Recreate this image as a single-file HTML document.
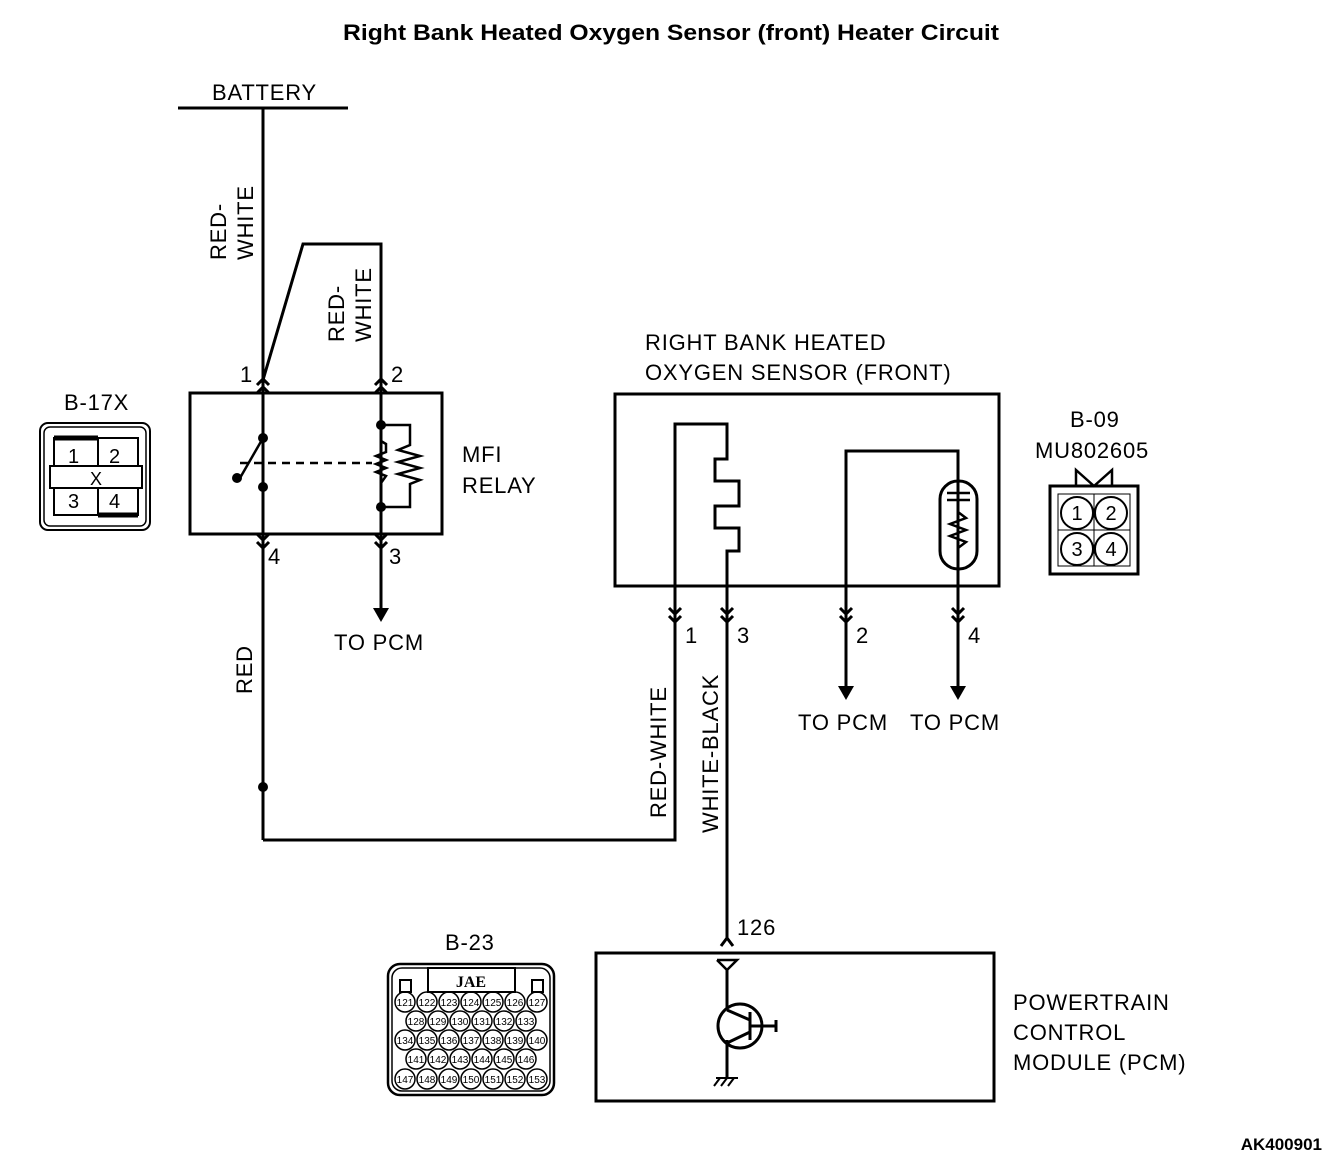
<!DOCTYPE html>
<html><head><meta charset="utf-8"><style>body{margin:0;background:#fff}svg{display:block}</style></head><body>
<svg width="1344" height="1168" viewBox="0 0 1344 1168" xmlns="http://www.w3.org/2000/svg" font-family="Liberation Sans, sans-serif">
<defs>
<g id="cu"><polyline points="-6,6 0,0 6,6" fill="none" stroke="#000" stroke-width="3"/><polyline points="-6,14 0,8 6,14" fill="none" stroke="#000" stroke-width="3"/></g>
<g id="cd"><polyline points="-6,-6 0,0 6,-6" fill="none" stroke="#000" stroke-width="3"/><polyline points="-6,-14 0,-8 6,-14" fill="none" stroke="#000" stroke-width="3"/></g>
</defs>
<text x="343" y="40" font-size="22" font-weight="bold" textLength="656" lengthAdjust="spacingAndGlyphs">Right Bank Heated Oxygen Sensor (front) Heater Circuit</text>
<text x="1322" y="1150" font-size="17" font-weight="bold" text-anchor="end">AK400901</text>
<g stroke="#000" stroke-width="3" fill="none">
<line x1="178" y1="108" x2="348" y2="108"/>
<line x1="263" y1="108" x2="263" y2="840"/>
<polyline points="263,380 303,244 381,244 381,612"/>
<rect x="190" y="393" width="252" height="141"/>
<polyline points="263,840 675,840 675,424 727,424 727,459 715,459 715,481 739,481 739,506 715,506 715,528 739,528 739,551 727,551 727,940"/>
<rect x="615" y="394" width="384" height="192"/>
<polyline points="846,690 846,451 958,451 958,690"/>
<rect x="940" y="481" width="37" height="88" rx="18"/>
<rect x="596" y="953" width="398" height="148"/>
<line x1="727" y1="970" x2="727" y2="1010"/>
<line x1="727" y1="1040" x2="727" y2="1078"/>
<circle cx="740" cy="1026" r="22"/>
<line x1="750" y1="1012" x2="750" y2="1040"/>
<line x1="750" y1="1026" x2="776" y2="1026"/>
<line x1="776" y1="1020" x2="776" y2="1032"/>
<line x1="727" y1="1010" x2="750" y2="1020"/>
<line x1="727" y1="1043" x2="750" y2="1032"/>
</g>
<g stroke="#000" stroke-width="2.5" fill="none">
<line x1="263" y1="438" x2="240" y2="478"/>
<line x1="240" y1="463" x2="372" y2="463" stroke-dasharray="8,6"/>
<polyline points="381,425 410,425 410,445 398,450 420,456 398,462 420,468 398,474 420,480 410,484 410,507 381,507"/>
<polyline points="381,441 386,444 386,452 376,456 386,460 376,464 386,468 376,472 386,476 381,483"/>
<line x1="947" y1="493" x2="970" y2="493"/><line x1="947" y1="500" x2="970" y2="500"/>
<polyline points="958,500 958,512 966,518 950,524 966,530 950,536 966,542 958,548"/>
<polyline points="717,960 737,960 727,970 717,960"/>
<g stroke-width="2"><line x1="716" y1="1078" x2="738" y2="1078"/><line x1="720" y1="1078" x2="714" y2="1086"/><line x1="727" y1="1078" x2="721" y2="1086"/><line x1="734" y1="1078" x2="728" y2="1086"/></g>
</g>
<g fill="#000">
<circle cx="263" cy="438" r="5"/><circle cx="263" cy="487" r="5"/><circle cx="237" cy="478" r="5"/>
<circle cx="381" cy="425" r="5"/><circle cx="381" cy="507" r="5"/><circle cx="263" cy="787" r="5"/>
<polygon points="373,608 389,608 381,622"/>
<polygon points="838,686 854,686 846,700"/>
<polygon points="950,686 966,686 958,700"/>
</g>
<use href="#cu" x="263" y="379"/><use href="#cu" x="381" y="379"/>
<use href="#cd" x="263" y="548"/><use href="#cd" x="381" y="548"/>
<use href="#cd" x="675" y="622"/><use href="#cd" x="727" y="622"/><use href="#cd" x="846" y="622"/><use href="#cd" x="958" y="622"/>
<polyline points="721,946 727,938 733,946" fill="none" stroke="#000" stroke-width="3"/>
<g font-size="22" letter-spacing="0.8">
<text x="212" y="100">BATTERY</text>
<text x="240" y="382">1</text><text x="391" y="382">2</text>
<text x="268" y="564">4</text><text x="389" y="564">3</text>
<text x="334" y="650">TO PCM</text>
<text x="462" y="462">MFI</text><text x="462" y="493">RELAY</text>
<text x="645" y="350">RIGHT BANK HEATED</text><text x="645" y="380">OXYGEN SENSOR (FRONT)</text>
<text x="685" y="643">1</text><text x="737" y="643">3</text><text x="856" y="643">2</text><text x="968" y="643">4</text>
<text x="798" y="730">TO PCM</text><text x="910" y="730">TO PCM</text>
<text x="737" y="935">126</text>
<text x="1013" y="1010">POWERTRAIN</text><text x="1013" y="1040">CONTROL</text><text x="1013" y="1070">MODULE (PCM)</text>
<text x="64" y="410">B-17X</text>
<text x="1070" y="427">B-09</text><text x="1035" y="458">MU802605</text>
<text x="445" y="950">B-23</text>
<text transform="translate(226,260) rotate(-90)">RED-</text>
<text transform="translate(253,260) rotate(-90)">WHITE</text>
<text transform="translate(344,342) rotate(-90)">RED-</text>
<text transform="translate(371,342) rotate(-90)">WHITE</text>
<text transform="translate(252,694) rotate(-90)">RED</text>
<text transform="translate(666,818) rotate(-90)">RED-WHITE</text>
<text transform="translate(718,833) rotate(-90)">WHITE-BLACK</text>
</g>
<!-- B-17X -->
<g stroke="#000" fill="none">
<rect x="40" y="423" width="110" height="107" rx="8" stroke-width="2"/>
<rect x="44" y="427" width="102" height="99" rx="6" stroke-width="1.5"/>
<rect x="54" y="438" width="44" height="28" stroke-width="2"/><rect x="98" y="438" width="40" height="28" stroke-width="2"/>
<rect x="54" y="488" width="44" height="27" stroke-width="2"/><rect x="98" y="488" width="40" height="27" stroke-width="2"/>
<rect x="50" y="466" width="92" height="22" stroke-width="2" fill="#fff"/>
<line x1="54" y1="438" x2="98" y2="438" stroke-width="5"/><line x1="98" y1="515" x2="138" y2="515" stroke-width="5"/>
</g>
<g font-size="20"><text x="68" y="463">1</text><text x="109" y="463">2</text><text x="90" y="485" font-size="18">X</text><text x="68" y="508">3</text><text x="109" y="508">4</text></g>
<!-- B-09 -->
<g stroke="#000" fill="none" stroke-width="2">
<rect x="1050" y="486" width="88" height="88" stroke-width="3"/>
<rect x="1058" y="494" width="72" height="72" stroke-width="1"/>
<line x1="1094" y1="494" x2="1094" y2="566" stroke-width="1"/><line x1="1058" y1="530" x2="1130" y2="530" stroke-width="1"/>
<circle cx="1077" cy="513" r="16"/><circle cx="1111" cy="513" r="16"/><circle cx="1077" cy="549" r="16"/><circle cx="1111" cy="549" r="16"/>
<polyline points="1076,486 1076,470 1094,486 1112,470 1112,486" stroke-width="2.5"/>
</g>
<g font-size="20" text-anchor="middle"><text x="1077" y="520">1</text><text x="1111" y="520">2</text><text x="1077" y="556">3</text><text x="1111" y="556">4</text></g>
<!-- B-23 -->
<g stroke="#000" fill="none" stroke-width="2">
<rect x="388" y="964" width="166" height="131" rx="12" stroke-width="2.5"/>
<rect x="392" y="968" width="158" height="123" rx="10" stroke-width="1.5"/>
<rect x="428" y="968" width="87" height="24"/>
<rect x="400" y="980" width="11" height="12"/><rect x="532" y="980" width="11" height="12"/>
</g>
<text x="471" y="987" font-size="16" font-weight="bold" text-anchor="middle" font-family="Liberation Serif, serif">JAE</text>
<g font-size="10" text-anchor="middle" stroke="#000" stroke-width="1.5">
<g fill="none">
<circle cx="405" cy="1002" r="10"/><circle cx="427" cy="1002" r="10"/><circle cx="449" cy="1002" r="10"/><circle cx="471" cy="1002" r="10"/><circle cx="493" cy="1002" r="10"/><circle cx="515" cy="1002" r="10"/><circle cx="537" cy="1002" r="10"/>
<circle cx="416" cy="1021" r="10"/><circle cx="438" cy="1021" r="10"/><circle cx="460" cy="1021" r="10"/><circle cx="482" cy="1021" r="10"/><circle cx="504" cy="1021" r="10"/><circle cx="526" cy="1021" r="10"/>
<circle cx="405" cy="1040" r="10"/><circle cx="427" cy="1040" r="10"/><circle cx="449" cy="1040" r="10"/><circle cx="471" cy="1040" r="10"/><circle cx="493" cy="1040" r="10"/><circle cx="515" cy="1040" r="10"/><circle cx="537" cy="1040" r="10"/>
<circle cx="416" cy="1059" r="10"/><circle cx="438" cy="1059" r="10"/><circle cx="460" cy="1059" r="10"/><circle cx="482" cy="1059" r="10"/><circle cx="504" cy="1059" r="10"/><circle cx="526" cy="1059" r="10"/>
<circle cx="405" cy="1079" r="10"/><circle cx="427" cy="1079" r="10"/><circle cx="449" cy="1079" r="10"/><circle cx="471" cy="1079" r="10"/><circle cx="493" cy="1079" r="10"/><circle cx="515" cy="1079" r="10"/><circle cx="537" cy="1079" r="10"/>
</g>
<g stroke="none" fill="#000">
<text x="405" y="1006">121</text><text x="427" y="1006">122</text><text x="449" y="1006">123</text><text x="471" y="1006">124</text><text x="493" y="1006">125</text><text x="515" y="1006">126</text><text x="537" y="1006">127</text>
<text x="416" y="1025">128</text><text x="438" y="1025">129</text><text x="460" y="1025">130</text><text x="482" y="1025">131</text><text x="504" y="1025">132</text><text x="526" y="1025">133</text>
<text x="405" y="1044">134</text><text x="427" y="1044">135</text><text x="449" y="1044">136</text><text x="471" y="1044">137</text><text x="493" y="1044">138</text><text x="515" y="1044">139</text><text x="537" y="1044">140</text>
<text x="416" y="1063">141</text><text x="438" y="1063">142</text><text x="460" y="1063">143</text><text x="482" y="1063">144</text><text x="504" y="1063">145</text><text x="526" y="1063">146</text>
<text x="405" y="1083">147</text><text x="427" y="1083">148</text><text x="449" y="1083">149</text><text x="471" y="1083">150</text><text x="493" y="1083">151</text><text x="515" y="1083">152</text><text x="537" y="1083">153</text>
</g>
</g>
</svg>
</body></html>
